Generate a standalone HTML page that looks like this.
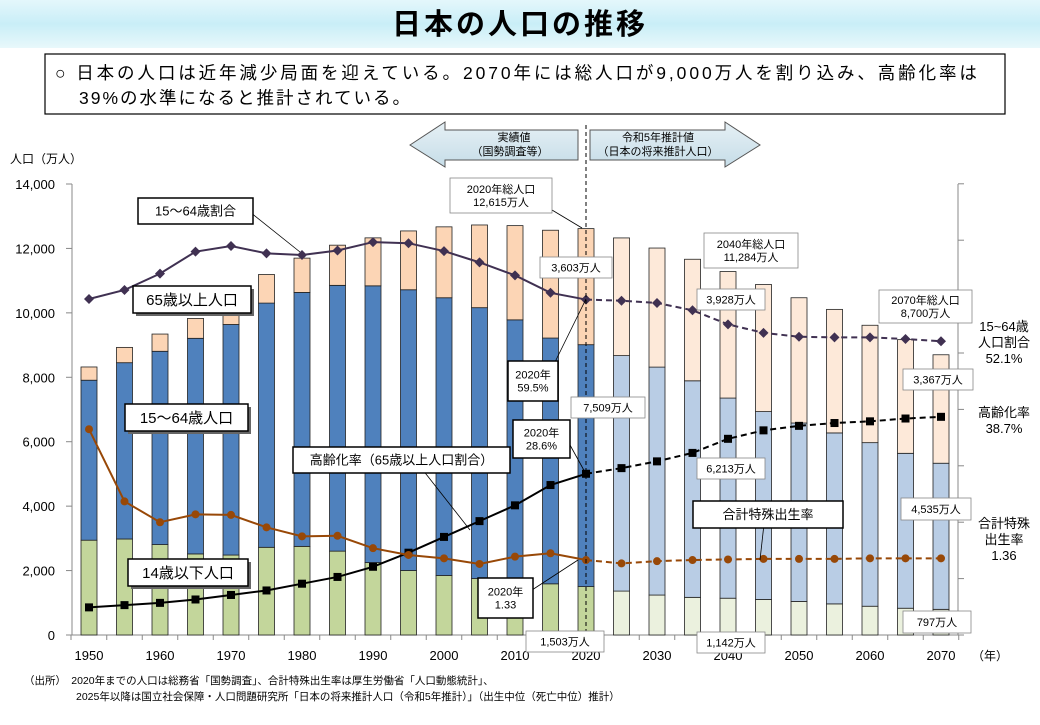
<!DOCTYPE html>
<html><head><meta charset="utf-8"><style>
body{margin:0;width:1040px;height:720px;background:#fff;overflow:hidden;font-family:"Liberation Sans","Noto Sans CJK JP",sans-serif;}
</style></head><body>
<svg id="s" width="1040" height="720" xmlns="http://www.w3.org/2000/svg" font-family="Liberation Sans, Noto Sans CJK JP, sans-serif">
<defs>
<linearGradient id="hg" x1="0" y1="0" x2="0" y2="1"><stop offset="0" stop-color="#e4f7fb"/><stop offset="0.5" stop-color="#c9eef7"/><stop offset="1" stop-color="#e8f8fb"/></linearGradient>
<linearGradient id="ag" x1="0" y1="0" x2="0" y2="1"><stop offset="0" stop-color="#e6f0f5"/><stop offset="1" stop-color="#c6dde8"/></linearGradient>
</defs>
<rect x="0" y="0" width="1040" height="48" fill="url(#hg)"/>
<text x="520" y="34" font-size="29" font-weight="bold" text-anchor="middle" letter-spacing="3" fill="#000">日本の人口の推移</text>
<rect x="45" y="54" width="960" height="60" fill="#fff" stroke="#000" stroke-width="1.2"/>
<text x="55" y="79" font-size="17.5" letter-spacing="2.9" fill="#000">○ 日本の人口は近年減少局面を迎えている。2070年には総人口が9,000万人を割り込み、高齢化率は</text>
<text x="79" y="104" font-size="17.5" letter-spacing="2" fill="#000">39%の水準になると推計されている。</text>
<g id="g"></g>
</svg>
<script>
const g=document.getElementById('g');let h='';
const Y=v=>635-v*451/14000, X=yr=>89+(yr-1950)*7.1;
const yrs=[];for(let y=1950;y<=2070;y+=5)yrs.push(y);
const d=[[2943,4966,411],[2980,5473,475],[2807,6000,535],[2517,6693,618],[2482,7157,733],[2722,7581,887],[2751,7883,1065],[2603,8251,1247],[2249,8590,1489],[2001,8716,1826],[1847,8622,2201],[1752,8409,2567],[1680,8103,2925],[1589,7629,3347],[1503,7509,3603],[1363,7310,3653],[1240,7076,3696],[1169,6722,3773],[1142,6213,3928],[1103,5832,3945],[1041,5540,3888],[966,5307,3835],[893,5078,3644],[831,4809,3529],[797,4535,3367]];
const ratio=[59.6,61.2,64.1,68.0,69.0,67.7,67.4,68.2,69.7,69.5,68.1,66.1,63.8,60.7,59.5,59.3,58.9,57.6,55.1,53.6,52.9,52.8,52.8,52.5,52.1];
const aging=[4.9,5.3,5.7,6.3,7.1,7.9,9.1,10.3,12.1,14.6,17.4,20.2,23.0,26.6,28.6,29.6,30.8,32.3,34.8,36.3,37.1,37.6,37.9,38.4,38.7];
const fert=[3.65,2.37,2.00,2.14,2.13,1.91,1.75,1.76,1.54,1.42,1.36,1.26,1.39,1.45,1.33,1.27,1.31,1.33,1.34,1.35,1.35,1.35,1.36,1.36,1.36];
h+=`<line x1="72" y1="184" x2="72" y2="635" stroke="#888"/>`;
for(let i=0;i<=7;i++){const y=Y(i*2000);h+=`<line x1="66" y1="${y}" x2="72" y2="${y}" stroke="#888"/><text x="55" y="${y+5}" font-size="13" text-anchor="end">${(i*2000).toLocaleString('en-US')}</text>`;}
h+=`<line x1="958" y1="184" x2="958" y2="635" stroke="#888"/>`;
for(let i=0;i<=8;i++){const y=635-i*56.4;h+=`<line x1="958" y1="${y}" x2="964" y2="${y}" stroke="#888"/>`;}
h+=`<line x1="72" y1="635" x2="958" y2="635" stroke="#888"/>`;
for(let i=0;i<=24;i++){const x=X(1950+i*5)+17.75;h+=`<line x1="${x}" y1="635" x2="${x}" y2="640" stroke="#888"/>`;}
h+=`<line x1="71" y1="635" x2="71" y2="640" stroke="#888"/>`;
for(let y=1950;y<=2070;y+=10)h+=`<text x="${X(y)}" y="660" font-size="13" text-anchor="middle">${y}</text>`;
h+=`<text x="972" y="660" font-size="12">（年）</text><text x="10" y="163" font-size="12">人口（万人）</text>`;
yrs.forEach((yr,i)=>{const x=X(yr)-8,[a,b,c]=d[i],p=yr>2020;
const cols=p?['#ebf1de','#b9cde5','#fde9d9']:['#c3d69b','#4f81bd','#fcd5b5'];
let base=0;[a,b,c].forEach((v,k)=>{h+=`<rect x="${x}" y="${Y(base+v)}" width="16" height="${Y(base)-Y(base+v)}" fill="${cols[k]}" stroke="#222" stroke-width="0.8"/>`;base+=v;});});
function line(vals,f,col,mk){let s1='',s2='';yrs.forEach((yr,i)=>{const pt=`${X(yr)},${Y(f(vals[i]))} `;if(yr<=2020)s1+=pt;if(yr>=2020)s2+=pt;});
h+=`<polyline points="${s1}" fill="none" stroke="${col}" stroke-width="2"/><polyline points="${s2}" fill="none" stroke="${col}" stroke-width="2" stroke-dasharray="6,4"/>`;
yrs.forEach((yr,i)=>{const x=X(yr),y=Y(f(vals[i]));if(mk=='d')h+=`<path d="M${x} ${y-5}L${x+5} ${y}L${x} ${y+5}L${x-5} ${y}Z" fill="${col}"/>`;else if(mk=='s')h+=`<rect x="${x-4}" y="${y-4}" width="8" height="8" fill="${col}"/>`;else h+=`<circle cx="${x}" cy="${y}" r="4" fill="${col}"/>`;});}
line(ratio,v=>v*175,'#403152','d');line(aging,v=>v*175,'#000','s');line(fert,v=>v*1750,'#984807','c');
h+=`<line x1="586" y1="125" x2="586" y2="635" stroke="#000" stroke-dasharray="4,3"/>`;
h+=`<path d="M410 145 L445 122 L445 130 L578 130 L578 160 L445 160 L445 167 Z" fill="url(#ag)" stroke="#555"/>`;
h+=`<text x="514" y="141" font-size="11" text-anchor="middle">実績値</text><text x="510" y="155" font-size="11" text-anchor="middle">（国勢調査等）</text>`;
h+=`<path d="M590 130 L725 130 L725 122 L760 145 L725 167 L725 160 L590 160 Z" fill="url(#ag)" stroke="#555"/>`;
h+=`<text x="658" y="141" font-size="11" text-anchor="middle">令和5年推計値</text><text x="658" y="155" font-size="11" text-anchor="middle">（日本の将来推計人口）</text>`;
h+=`<line x1="552" y1="210" x2="582" y2="228" stroke="#000" stroke-width="0.8"/><line x1="555" y1="362" x2="586" y2="299" stroke="#000" stroke-width="0.8"/>`;
h+=`<line x1="570" y1="445" x2="586" y2="474" stroke="#000" stroke-width="0.8"/><line x1="532" y1="590" x2="578" y2="560" stroke="#000" stroke-width="0.8"/>`;
h+=`<line x1="415" y1="460" x2="470" y2="530" stroke="#000" stroke-width="0.8"/><line x1="765" y1="515" x2="760" y2="560" stroke="#000" stroke-width="0.8"/>`;
h+=`<line x1="250" y1="212" x2="300" y2="252" stroke="#000" stroke-width="0.8"/>`;
function box(x,y,w,hh,lines,fs,opts={}){const sw=opts.b?1.5:0.8,sc=opts.b?'#000':'#888';
if(opts.sh)h+=`<rect x="${x+3}" y="${y+3}" width="${w}" height="${hh}" fill="#666"/>`;
h+=`<rect x="${x}" y="${y}" width="${w}" height="${hh}" fill="#fff" stroke="${sc}" stroke-width="${sw}"/>`;
const n=lines.length,lh=fs*1.2,st=y+hh/2-(n-1)*lh/2+fs*0.36;
lines.forEach((t,i)=>h+=`<text x="${x+w/2}" y="${st+i*lh}" font-size="${fs}" text-anchor="middle">${t}</text>`);}
box(138,198,115,26,['15～64歳割合'],13,{b:1});
box(133,286,118,27,['65歳以上人口'],15,{b:1,sh:1});
box(125,404,123,27,['15～64歳人口'],15,{b:1,sh:1});
box(293,447,217,26,['高齢化率（65歳以上人口割合）'],13,{b:1});
box(693,501,150,27,['合計特殊出生率'],13,{b:1});
box(128,559,120,27,['14歳以下人口'],15,{b:1,sh:1});
box(450,178,102,35,['2020年総人口','12,615万人'],11);
box(540,257,72,21,['3,603万人'],11);
box(508,361,50,40,['2020年','59.5%'],11,{b:1});
box(571,397,74,21,['7,509万人'],11);
box(513,420,57,38,['2020年','28.6%'],11,{b:1});
box(478,578,55,40,['2020年','1.33'],11,{b:1});
box(526,631,78,21,['1,503万人'],11);
box(704,233,94,35,['2040年総人口','11,284万人'],11);
box(697,289,68,21,['3,928万人'],11);
box(697,458,68,21,['6,213万人'],11);
box(697,632,68,21,['1,142万人'],11);
box(879,290,93,33,['2070年総人口','8,700万人'],11);
box(903,369,70,21,['3,367万人'],11);
box(901,498,70,22,['4,535万人'],11);
box(903,611,68,22,['797万人'],11);
[[['15~64歳','人口割合','52.1%'],331],[['高齢化率','38.7%'],417],[['合計特殊','出生率','1.36'],528]].forEach(([ls,y])=>ls.forEach((t,i)=>h+=`<text x="1004" y="${y+i*16}" font-size="13" text-anchor="middle">${t}</text>`));
h+=`<text x="24" y="684" font-size="10.5">（出所）　2020年までの人口は総務省「国勢調査」、合計特殊出生率は厚生労働省「人口動態統計」、</text>`;
h+=`<text x="76" y="700" font-size="10.5">2025年以降は国立社会保障・人口問題研究所「日本の将来推計人口（令和5年推計）」（出生中位（死亡中位）推計）</text>`;
g.innerHTML=h;
</script>
</body></html>
